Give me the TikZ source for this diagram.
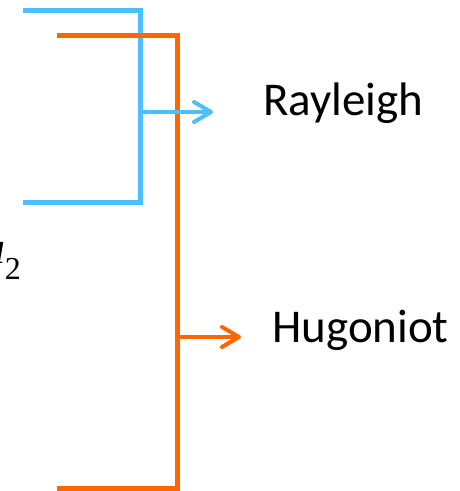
\documentclass[tikz,border=0pt]{standalone}
\usepackage{fontspec}
\setmainfont{Carlito}
\newfontfamily\tms{Liberation Serif}
\usetikzlibrary{arrows.meta}
\definecolor{rblue}{HTML}{4DBEFF}
\definecolor{horange}{HTML}{FF6600}
\begin{document}
\begin{tikzpicture}[x=1pt,y=-1pt,
  bracket/.style={line width=5pt},
  arr/.style={line width=4pt,-{Straight Barb[length=17pt,width=20pt,line cap=round,line join=round]}},
  lbl/.style={inner sep=0pt,anchor=base west,font=\fontsize{47}{52}\selectfont}]
\useasboundingbox (0,0) rectangle (459,491);
\node[inner sep=0pt,anchor=base east] (u) at (21,263)
  {\tms\fontsize{46}{50}\selectfont\itshape u\hspace{-1pt}\raisebox{-16pt}{\upshape\fontsize{32}{34}\selectfont 2}};
\draw[bracket,rblue] (23,10) -- (140,10) -- (140,202) -- (23,202);
\draw[bracket,horange] (57,35) -- (177,35) -- (177,488) -- (57,488);
\coordinate (rs) at (140,112);
\coordinate (re) at (213,112);
\coordinate (hs) at (177,337);
\coordinate (he) at (241,337);
\draw[arr,rblue] (rs) -- (re);
\draw[arr,horange] (hs) -- (he);
\node[lbl] (ray) at (263,115) {Rayleigh};
\node[lbl] (hug) at (272,342) {Hugoniot};
\end{tikzpicture}
\end{document}
